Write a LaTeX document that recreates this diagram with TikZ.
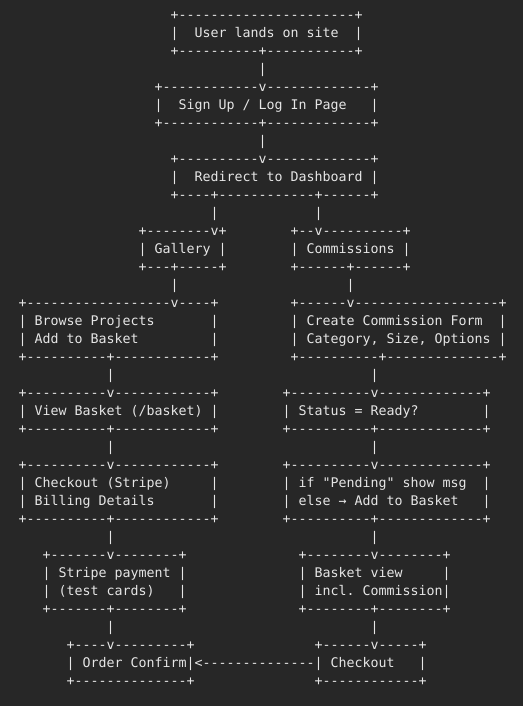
\documentclass[tikz,border=0pt]{standalone}
\usepackage{fontspec}
\setmonofont{DejaVu Sans Mono}
\definecolor{bgc}{HTML}{272727}
\definecolor{fgc}{HTML}{E6E6E6}
\ExplSyntaxOn
\cs_new:Npn \Dsh #1 { \prg_replicate:nn {#1} {-} }
\ExplSyntaxOff
\tikzset{asc/.style={anchor=base west, inner sep=0pt, outer sep=0pt, text=fgc,
  font=\ttfamily\fontsize{13.288}{18}\selectfont}}
\newcommand{\seg}[4]{\node[asc] (#1) at ({18.7pt+8pt*#2},{-19.3pt-18pt*#3}) {#4};}
\begin{document}
\begin{tikzpicture}
\fill[bgc] (0,0) rectangle (523pt,-706pt);
\useasboundingbox (0,0) rectangle (523pt,-706pt);
% User lands
\seg{r0a}{19}{0}{+\Dsh{22}+}
\seg{r1a}{19}{1}{|~~User~lands~on~site~~|}
\seg{r2a}{19}{2}{+\Dsh{10}+\Dsh{11}+}
\seg{r3a}{30}{3}{|}
% Sign up
\seg{r4a}{17}{4}{+\Dsh{12}v\Dsh{13}+}
\seg{r5a}{17}{5}{|~~Sign~Up~/~Log~In~Page~~~|}
\seg{r6a}{17}{6}{+\Dsh{12}+\Dsh{13}+}
\seg{r7a}{30}{7}{|}
% Redirect
\seg{r8a}{19}{8}{+\Dsh{10}v\Dsh{13}+}
\seg{r9a}{19}{9}{|~~Redirect~to~Dashboard~|}
\seg{r10a}{19}{10}{+\Dsh{4}+\Dsh{12}+\Dsh{6}+}
\seg{r11a}{24}{11}{|}
\seg{r11b}{37}{11}{|}
% Gallery / Commissions
\seg{r12a}{15}{12}{+\Dsh{8}v+}
\seg{r12b}{34}{12}{+\Dsh{2}v\Dsh{10}+}
\seg{r13a}{15}{13}{|~Gallery~|}
\seg{r13b}{34}{13}{|~Commissions~|}
\seg{r14a}{15}{14}{+\Dsh{3}+\Dsh{5}+}
\seg{r14b}{34}{14}{+\Dsh{6}+\Dsh{6}+}
\seg{r15a}{19}{15}{|}
\seg{r15b}{41}{15}{|}
% Browse / Create form
\seg{r16a}{0}{16}{+\Dsh{18}v\Dsh{4}+}
\seg{r16b}{34}{16}{+\Dsh{6}v\Dsh{18}+}
\seg{r17a}{0}{17}{|~Browse~Projects~~~~~~~|}
\seg{r17b}{34}{17}{|~Create~Commission~Form~~|}
\seg{r18a}{0}{18}{|~Add~to~Basket~~~~~~~~~|}
\seg{r18b}{34}{18}{|~Category,~Size,~Options~|}
\seg{r19a}{0}{19}{+\Dsh{10}+\Dsh{12}+}
\seg{r19b}{34}{19}{+\Dsh{10}+\Dsh{14}+}
\seg{r20a}{11}{20}{|}
\seg{r20b}{44}{20}{|}
% View basket / Status
\seg{r21a}{0}{21}{+\Dsh{10}v\Dsh{12}+}
\seg{r21b}{33}{21}{+\Dsh{10}v\Dsh{13}+}
\seg{r22a}{0}{22}{|~View~Basket~(/basket)~|}
\seg{r22b}{33}{22}{|~Status~=~Ready?~~~~~~~~|}
\seg{r23a}{0}{23}{+\Dsh{10}+\Dsh{12}+}
\seg{r23b}{33}{23}{+\Dsh{10}+\Dsh{13}+}
\seg{r24a}{11}{24}{|}
\seg{r24b}{44}{24}{|}
% Checkout (Stripe) / Pending
\seg{r25a}{0}{25}{+\Dsh{10}v\Dsh{12}+}
\seg{r25b}{33}{25}{+\Dsh{10}v\Dsh{13}+}
\seg{r26a}{0}{26}{|~Checkout~(Stripe)~~~~~|}
\seg{r26b}{33}{26}{|~if~"Pending"~show~msg~~|}
\seg{r27a}{0}{27}{|~Billing~Details~~~~~~~|}
\seg{r27b}{33}{27}{|~else~→~Add~to~Basket~~~|}
\seg{r28a}{0}{28}{+\Dsh{10}+\Dsh{12}+}
\seg{r28b}{33}{28}{+\Dsh{10}+\Dsh{13}+}
\seg{r29a}{11}{29}{|}
\seg{r29b}{44}{29}{|}
% Stripe payment / Basket view
\seg{r30a}{3}{30}{+\Dsh{7}v\Dsh{8}+}
\seg{r30b}{35}{30}{+\Dsh{8}v\Dsh{8}+}
\seg{r31a}{3}{31}{|~Stripe~payment~|}
\seg{r31b}{35}{31}{|~Basket~view~~~~~|}
\seg{r32a}{3}{32}{|~(test~cards)~~~|}
\seg{r32b}{35}{32}{|~incl.~Commission|}
\seg{r33a}{3}{33}{+\Dsh{7}+\Dsh{8}+}
\seg{r33b}{35}{33}{+\Dsh{8}+\Dsh{8}+}
\seg{r34a}{11}{34}{|}
\seg{r34b}{44}{34}{|}
% Order confirm / Checkout
\seg{r35a}{6}{35}{+\Dsh{4}v\Dsh{9}+}
\seg{r35b}{37}{35}{+\Dsh{6}v\Dsh{5}+}
\seg{r36a}{6}{36}{|~Order~Confirm|}
\seg{r36b}{22}{36}{<\Dsh{14}}
\seg{r36c}{37}{36}{|~Checkout~~~|}
\seg{r37a}{6}{37}{+\Dsh{14}+}
\seg{r37b}{37}{37}{+\Dsh{12}+}
\end{tikzpicture}
\end{document}
